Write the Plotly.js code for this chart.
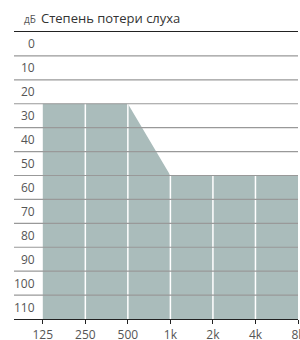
<!DOCTYPE html>
<html>
<head>
<meta charset="utf-8">
<script src="https://cdn.plot.ly/plotly-3.0.1.min.js"></script>
<style>html,body{margin:0;padding:0;background:#fff;}#chart{width:300px;height:340px;}</style>
</head>
<body>
<div id="chart"></div>
<script>
// Data
const freq = [125, 250, 500, 1000, 2000, 4000, 8000];
const freqLabels = ['125', '250', '500', '1k', '2k', '4k', '8k'];
const loss = [30, 30, 30, 60, 60, 60, 60];
const dbTicks = [0, 10, 20, 30, 40, 50, 60, 70, 80, 90, 100, 110];
const dbMax = 120;
const titleUnit = 'дБ';
const titleText = 'Степень потери слуха';

const PLOT_L = 14, PLOT_W = 284, PLOT_T = 32, PLOT_H = 287;

const trace = {
  x: freq.concat([freq[freq.length - 1], freq[0]]),
  y: loss.concat([dbMax, dbMax]),
  type: 'scatter',
  mode: 'lines',
  fill: 'toself',
  fillcolor: '#aabcbb',
  line: {width: 0},
  hoverinfo: 'skip'
};

const shapes = [];
// white vertical lines over the fill
freq.slice(1, -1).forEach(f => shapes.push({
  type: 'line', xref: 'x', yref: 'paper', x0: f, x1: f, y0: 0, y1: 1,
  line: {color: '#ffffff', width: 1.5}, layer: 'above'
}));
// horizontal grid lines over the fill
dbTicks.slice(1).forEach(v => shapes.push({
  type: 'line', xref: 'paper', yref: 'y', x0: 0, x1: 1, y0: v, y1: v,
  line: {color: '#999999', width: 1.2}, layer: 'above'
}));

const annotations = dbTicks.map(v => ({
  xref: 'paper', yref: 'y', x: (36.6 - PLOT_L) / PLOT_W, y: v + 5,
  xanchor: 'right', yanchor: 'middle', showarrow: false, text: String(v),
  font: {family: 'Open Sans', size: 12, color: '#555555'}
}));
annotations.push({
  xref: 'paper', yref: 'paper', x: (22 - PLOT_L) / PLOT_W, y: 1 + (PLOT_T - 18.8) / PLOT_H,
  xanchor: 'left', yanchor: 'middle', showarrow: false, text: titleUnit,
  font: {family: 'Open Sans', size: 10, color: '#555555'}
});
annotations.push({
  xref: 'paper', yref: 'paper', x: (38.5 - PLOT_L) / PLOT_W, y: 1 + (PLOT_T - 17.8) / PLOT_H,
  xanchor: 'left', yanchor: 'middle', showarrow: false, text: titleText,
  font: {family: 'Open Sans', size: 13, color: '#333333'}
});

const layout = {
  width: 300, height: 340,
  margin: {l: PLOT_L, r: 300 - PLOT_L - PLOT_W, t: PLOT_T, b: 340 - PLOT_T - PLOT_H, pad: 0},
  paper_bgcolor: '#ffffff', plot_bgcolor: '#ffffff',
  showlegend: false,
  xaxis: {
    type: 'log', range: [1.8931, 3.9031],
    tickvals: freq, ticktext: freqLabels,
    ticks: 'outside', ticklen: 4, tickcolor: '#222222', tickwidth: 1,
    showline: true, linecolor: '#222222', linewidth: 1.2, mirror: true,
    showgrid: false, zeroline: false,
    ticklabeloverflow: 'allow',
    tickfont: {family: 'Open Sans', size: 12, color: '#555555'},
    fixedrange: true
  },
  yaxis: {
    range: [dbMax, 0], showgrid: false, zeroline: false,
    showticklabels: false, ticks: '', showline: false, fixedrange: true
  },
  shapes: shapes,
  annotations: annotations
};

Plotly.newPlot('chart', [trace], layout, {displayModeBar: false, staticPlot: true});
</script>
</body>
</html>
